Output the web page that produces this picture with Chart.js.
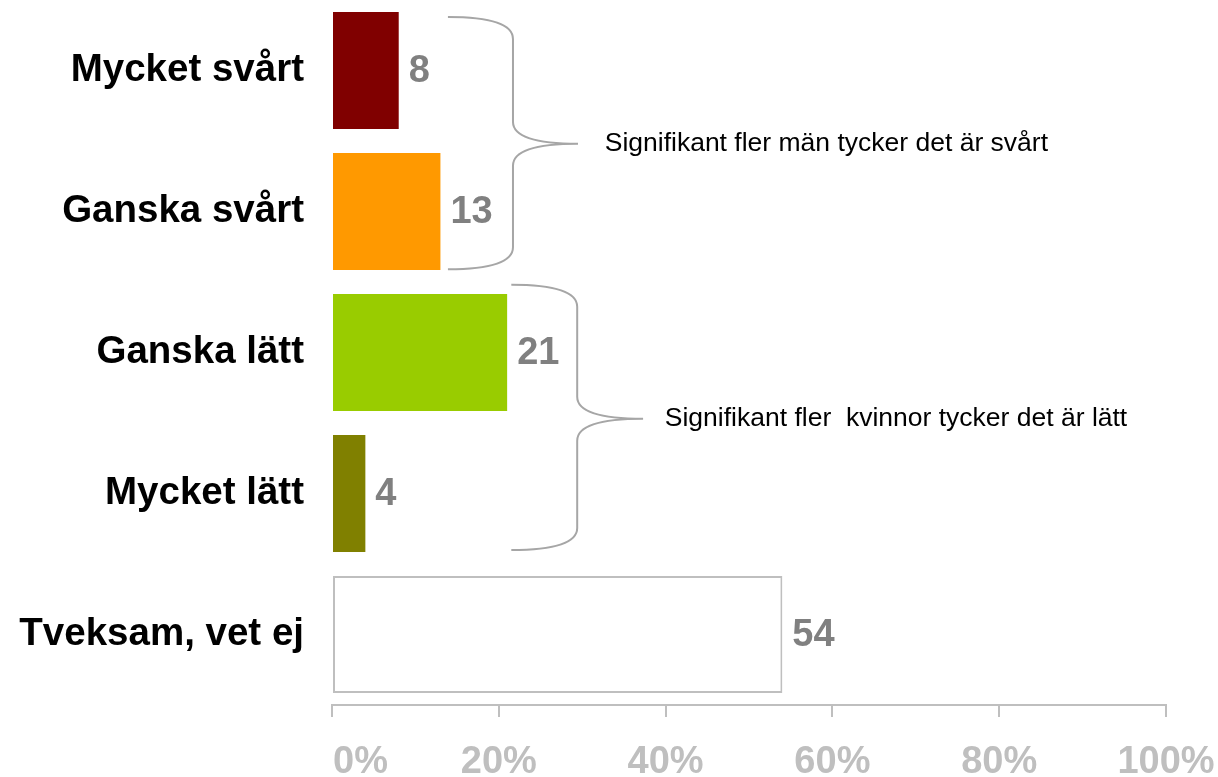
<!DOCTYPE html>
<html>
<head>
<meta charset="utf-8">
<script src="https://cdn.jsdelivr.net/npm/chart.js@4.4.1/dist/chart.umd.min.js"></script>
<style>
  html, body { margin: 0; padding: 0; background: #fff; }
</style>
</head>
<body>
<canvas id="chart" width="1218" height="777" style="width:1218px;height:777px;display:block"></canvas>
<script>
const categories = ['Mycket svårt', 'Ganska svårt', 'Ganska lätt', 'Mycket lätt', 'Tveksam, vet ej'];
const values = [8, 13, 21, 4, 54];
const barColors = ['#800000', '#FF9900', '#99CC00', '#808000', '#FFFFFF'];
const xTickLabels = ['0%', '20%', '40%', '60%', '80%', '100%'];
const notes = ['Signifikant fler män tycker det är svårt', 'Signifikant fler  kvinnor tycker det är lätt'];

// braces in data units: percent on x, category index on y
const braces = [
    { top: -0.38, tip: 0.52, bottom: 1.41, xEnd: 13.9, xMid: 21.7, xTip: 29.5, textX: 32.7 },
    { top: 1.52, tip: 2.47, bottom: 3.40, xEnd: 21.5, xMid: 29.4, xTip: 37.3, textX: 39.9 }
];

const family = '"Liberation Sans", Arial, sans-serif';

const extras = {
    id: 'extras',
    afterDatasetsDraw(chart) {
        const ctx = chart.ctx;
        const xs = chart.scales.x;
        const ys = chart.scales.y;
        const bars = chart.getDatasetMeta(0).data;

        ctx.save();
        ctx.textAlign = 'left';
        ctx.textBaseline = 'middle';

        // value labels
        ctx.font = 'bold 38px ' + family;
        ctx.fillStyle = '#808080';
        bars.forEach((bar, i) => {
            ctx.fillText(String(values[i]), bar.x + 10, bar.y + 1);
        });

        // curly braces + notes
        ctx.strokeStyle = '#A6A6A6';
        ctx.lineWidth = 2;
        braces.forEach((b, i) => {
            const y0 = ys.getPixelForValue(b.top);
            const y1 = ys.getPixelForValue(b.tip);
            const y2 = ys.getPixelForValue(b.bottom);
            const xe = xs.getPixelForValue(b.xEnd);
            const xm = xs.getPixelForValue(b.xMid);
            const xt = xs.getPixelForValue(b.xTip);
            const r = 22;
            ctx.beginPath();
            ctx.moveTo(xe, y0);
            ctx.quadraticCurveTo(xm, y0, xm, y0 + r);
            ctx.lineTo(xm, y1 - r);
            ctx.quadraticCurveTo(xm, y1, xt, y1);
            ctx.quadraticCurveTo(xm, y1, xm, y1 + r);
            ctx.lineTo(xm, y2 - r);
            ctx.quadraticCurveTo(xm, y2, xe, y2);
            ctx.stroke();

            ctx.font = '26.5px ' + family;
            ctx.fillStyle = '#000000';
            ctx.fillText(notes[i], xs.getPixelForValue(b.textX), y1);
        });
        ctx.restore();
    }
};

new Chart(document.getElementById('chart'), {
    type: 'bar',
    data: {
        labels: categories,
        datasets: [{
            data: values,
            backgroundColor: barColors,
            borderColor: '#BFBFBF',
            borderWidth: [0, 0, 0, 0, 2],
            borderSkipped: false,
            categoryPercentage: 1,
            barPercentage: 0.83
        }]
    },
    options: {
        indexAxis: 'y',
        responsive: false,
        animation: false,
        devicePixelRatio: 1,
        layout: { padding: { left: 0, right: 52, top: 0, bottom: 0 } },
        plugins: {
            legend: { display: false },
            tooltip: { enabled: false }
        },
        scales: {
            x: {
                min: 0,
                max: 100,
                position: 'bottom',
                ticks: {
                    stepSize: 20,
                    padding: 23,
                    maxRotation: 0,
                    autoSkip: false,
                    color: '#BFBFBF',
                    font: { family: family, size: 38, weight: 'bold' },
                    // first label sits a bit right of its tick in the original
                    callback: (v, i) => (i === 0 ? '\u2002\u2002\u2002' : '') + xTickLabels[i]
                },
                grid: { drawOnChartArea: false, drawTicks: true, tickLength: 12, color: '#BFBFBF', lineWidth: 2 },
                border: { color: '#BFBFBF', width: 2 },
                afterFit: s => {
                    s.height = 72;
                    s.paddingLeft = 0;
                    s.paddingRight = 0;
                }
            },
            y: {
                ticks: {
                    color: '#000000',
                    padding: 20,
                    font: { family: family, size: 38.5, weight: 'bold' }
                },
                grid: { display: false },
                border: { display: false },
                afterFit: s => {
                    s.width = 332;
                    s.paddingTop = 0;
                    s.paddingBottom = 0;
                }
            }
        }
    },
    plugins: [extras]
});
</script>
</body>
</html>
